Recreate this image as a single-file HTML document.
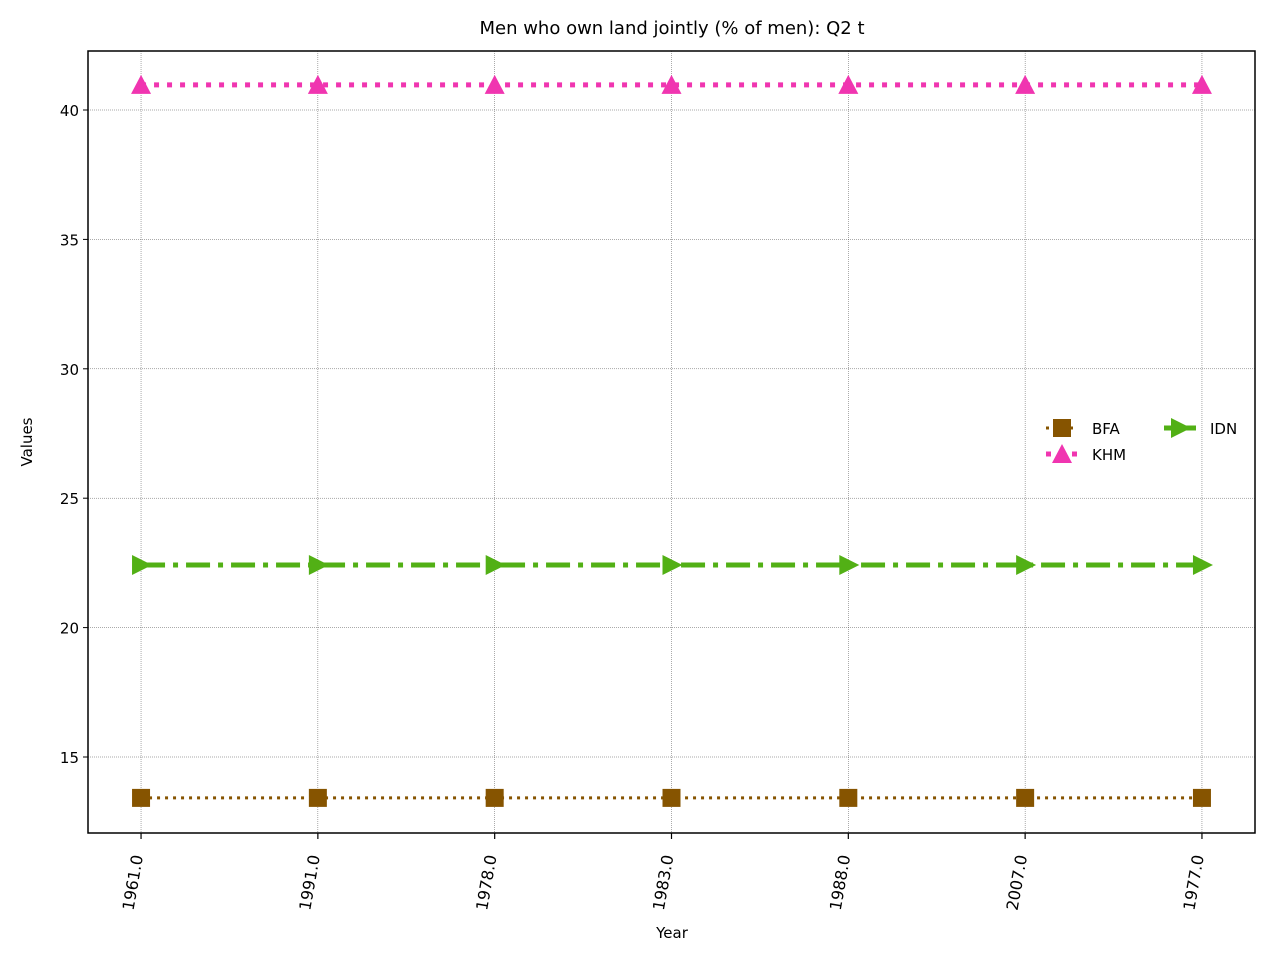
<!DOCTYPE html>
<html><head><meta charset="utf-8"><style>
body{margin:0;background:#fff;}
svg{display:block;font-family:"DejaVu Sans","Liberation Sans",sans-serif;}
</style></head><body>
<svg id="chart" width="1280" height="960"></svg>
<script>
const categories=["1961.0","1991.0","1978.0","1983.0","1988.0","2007.0","1977.0"];
const bfaValues=[13.42,13.42,13.42,13.42,13.42,13.42,13.42];
const khmValues=[40.97,40.97,40.97,40.97,40.97,40.97,40.97];
const idnValues=[22.42,22.42,22.42,22.42,22.42,22.42,22.42];
const yTicks=[15,20,25,30,35,40];

const NS="http://www.w3.org/2000/svg";
const svg=document.getElementById('chart');
const L=88,R=1255,T=51,B=833;
function xs(i){return L+(i+0.3)*(R-L)/6.6;}
function ys(v){return 110+(40-v)*25.88;}
function mk(tag,attrs,parent){const e=document.createElementNS(NS,tag);for(const k in attrs)e.setAttribute(k,attrs[k]);(parent||svg).appendChild(e);return e;}

const title=mk('text',{x:672,y:34,'text-anchor':'middle','font-size':18,fill:'#000'});
title.textContent="Men who own land jointly (% of men): Q2 t";



yTicks.forEach(v=>{
  const g=mk('line',{x1:L,x2:R,y1:ys(v),y2:ys(v),stroke:'#555','stroke-width':0.5,'stroke-dasharray':'1,1'});
  
  
  mk('line',{x1:L-5,x2:L,y1:ys(v),y2:ys(v),stroke:'#000','stroke-width':1});
  const t=mk('text',{x:L-9,y:ys(v)+6,'text-anchor':'end','font-size':15});
  t.textContent=v;
  
  
});
categories.forEach((c,i)=>{
  const x=xs(i);
  const g=mk('line',{x1:x,x2:x,y1:T,y2:B,stroke:'#555','stroke-width':0.5,'stroke-dasharray':'1,1'});
  
  
  mk('line',{x1:x,x2:x,y1:B,y2:B+6,stroke:'#000','stroke-width':1.2});
  const t=mk('text',{x:x+2,y:B+23,'text-anchor':'end','font-size':16,transform:`rotate(-80 ${x+2} ${B+23})`});
  t.textContent=c;
  
  
});
const frame=mk('rect',{x:L,y:T,width:R-L,height:B-T,fill:'none',stroke:'#000','stroke-width':1.5});



const xl=mk('text',{x:672,y:938,'text-anchor':'middle','font-size':15});xl.textContent="Year";


const yl=mk('text',{x:32,y:442,'text-anchor':'middle','font-size':15,transform:'rotate(-90 32 442)'});yl.textContent="Values";



function marker(type,x,y,color,parent){
  if(type==='sq')return mk('rect',{x:x-9,y:y-9,width:18,height:18,fill:color},parent);
  if(type==='tri')return mk('polygon',{points:`${x},${y-10} ${x-10},${y+9} ${x+10},${y+9}`,fill:color},parent);
  return mk('polygon',{points:`${x+11},${y} ${x-9},${y-10} ${x-9},${y+10}`,fill:color},parent);
}
const series=[
  {name:'BFA',vals:bfaValues,color:'#865400',w:3,dash:'3,5',m:'sq'},
  {name:'KHM',vals:khmValues,color:'#f035b0',w:5,dash:'5,8',m:'tri'},
  {name:'IDN',vals:idnValues,color:'#52b015',w:5,dash:'24,8,5,8',m:'right'}
];
series.forEach(s=>{
  const g=mk('g',{});
  
  
  const pts=s.vals.map((v,i)=>xs(i)+','+ys(v)).join(' ');
  mk('polyline',{points:pts,fill:'none',stroke:s.color,'stroke-width':s.w,'stroke-dasharray':s.dash},g);
  s.vals.forEach((v,i)=>{
    const m=marker(s.m,xs(i),ys(v),s.color,g);
    
    
  });
});

const lg=mk('g',{});


const lpos=[[1046,428],[1046,454],[1164,428]];
series.forEach((s,i)=>{
  const [x,y]=lpos[i];
  const e=mk('g',{},lg);
  
  
  mk('line',{x1:x,x2:x+32,y1:y,y2:y,stroke:s.color,'stroke-width':s.w,'stroke-dasharray':s.name==='IDN'?'none':s.dash},e);
  marker(s.m,x+16,y,s.color,e);
  const t=mk('text',{x:x+46,y:y+6,'font-size':15},e);t.textContent=s.name;
});
</script>
</body></html>
